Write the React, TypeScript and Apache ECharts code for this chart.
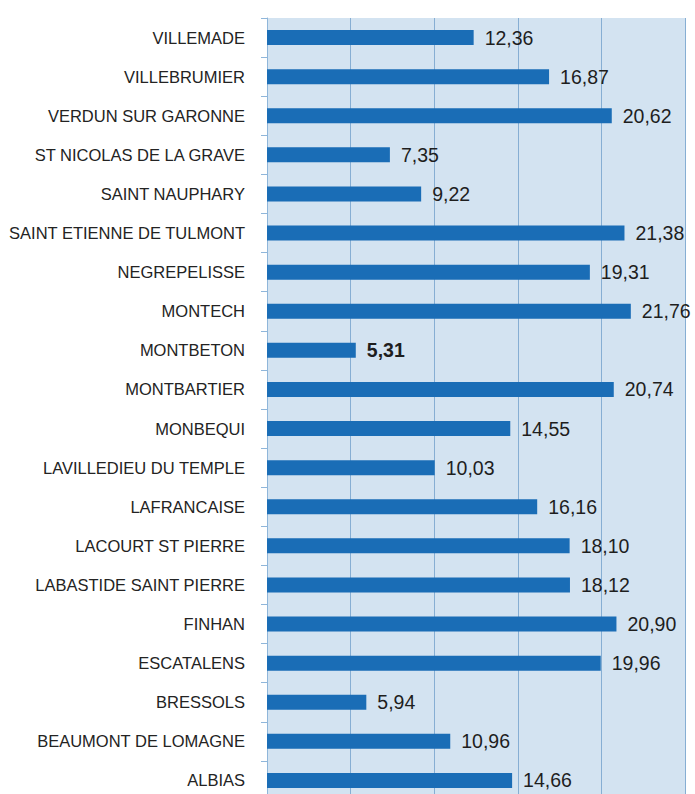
import React, { useEffect, useRef } from "react";
import * as echarts from "echarts";

const communes = [
  "VILLEMADE",
  "VILLEBRUMIER",
  "VERDUN SUR GARONNE",
  "ST NICOLAS DE LA GRAVE",
  "SAINT NAUPHARY",
  "SAINT ETIENNE DE TULMONT",
  "NEGREPELISSE",
  "MONTECH",
  "MONTBETON",
  "MONTBARTIER",
  "MONBEQUI",
  "LAVILLEDIEU DU TEMPLE",
  "LAFRANCAISE",
  "LACOURT ST PIERRE",
  "LABASTIDE SAINT PIERRE",
  "FINHAN",
  "ESCATALENS",
  "BRESSOLS",
  "BEAUMONT DE LOMAGNE",
  "ALBIAS",
];

const values = [
  12.36, 16.87, 20.62, 7.35, 9.22, 21.38, 19.31, 21.76, 5.31, 20.74, 14.55,
  10.03, 16.16, 18.1, 18.12, 20.9, 19.96, 5.94, 10.96, 14.66,
];

const highlighted = ["MONTBETON"];

const xMin = 0;
const xMax = 25;
const xInterval = 5;

const FONT = "'Liberation Sans', Arial, sans-serif";

export default function App() {
  const ref = useRef<HTMLDivElement>(null);
  useEffect(() => {
    if (!ref.current) return;
    const chart = echarts.init(ref.current, null, { renderer: "svg" });
    chart.setOption({
      animation: false,
      backgroundColor: "#ffffff",
      grid: {
        left: 267,
        right: 10,
        top: 18,
        bottom: -6,
        show: true,
        backgroundColor: "#d3e3f1",
        borderWidth: 0,
        outerBoundsMode: "none",
        containLabel: false,
      },
      xAxis: {
        type: "value",
        min: xMin,
        max: xMax,
        interval: xInterval,
        axisLabel: { show: false },
        axisLine: { show: false },
        axisTick: { show: false },
        splitLine: { show: true, lineStyle: { color: "#86aed3", width: 1 } },
      },
      yAxis: {
        type: "category",
        inverse: true,
        data: communes,
        axisLine: { show: true, lineStyle: { color: "#8fb6da", width: 1 } },
        axisTick: { show: true, length: 6, lineStyle: { color: "#8fb6da" } },
        axisLabel: {
          margin: 22,
          fontFamily: FONT,
          fontSize: 16.5,
          color: "#232323",
        },
      },
      series: [
        {
          type: "bar",
          barWidth: 15,
          itemStyle: { color: "#1a6db6" },
          data: values.map((v, i) => ({
            value: v,
            label: highlighted.includes(communes[i])
              ? { fontWeight: "bold" }
              : undefined,
          })),
          label: {
            show: true,
            position: "right",
            distance: 11,
            fontFamily: FONT,
            fontSize: 19.5,
            color: "#1e1e1e",
            formatter: (p: any) => p.value.toFixed(2).replace(".", ","),
          },
        },
      ],
    });
    return () => chart.dispose();
  }, []);
  return (
    <div
      ref={ref}
      style={{ position: "fixed", left: 0, top: 0, width: 695, height: 794 }}
    />
  );
}
